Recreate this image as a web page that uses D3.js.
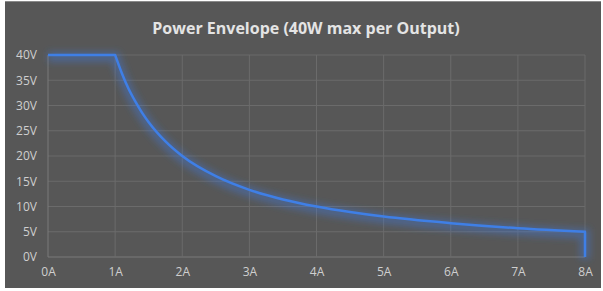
<!DOCTYPE html>
<html>
<head>
<meta charset="utf-8">
<script src="https://cdn.jsdelivr.net/npm/d3@7"></script>
<style>
    body { margin: 0; background: #ffffff; }
    text { font-family: "Open Sans", "DejaVu Sans", sans-serif; }
</style>
</head>
<body>
<svg id="chart" width="603" height="291"></svg>
<script>
// values
var ampTicks = [0, 1, 2, 3, 4, 5, 6, 7, 8];
var voltTicks = [0, 5, 10, 15, 20, 25, 30, 35, 40];
// flat part, curved part, final drop
var flatCurrent = [0, 1];
var flatVoltage = [40, 40];
var curveCurrent = [1, 1.1, 1.2, 1.3, 1.4, 1.5, 1.75, 2, 2.5, 3, 3.5, 4, 4.5, 5, 6, 7, 8];
var curveVoltage = [40, 36.4, 33.3, 30.8, 28.6, 26.7, 22.9, 20, 16, 13.3, 11.4, 10, 8.9, 8, 6.7, 5.7, 5];
var dropCurrent = [8, 8];
var dropVoltage = [5, 0];

// declare constants
const MARGIN = {top: 55, right: 18, bottom: 34, left: 48},
      WIDTH = 603 - MARGIN.left - MARGIN.right,
      HEIGHT = 291 - MARGIN.top - MARGIN.bottom;

var svg = d3.select("#chart");

// grey panel
svg.append("rect")
    .attr("x", 5).attr("y", 1)
    .attr("width", 596).attr("height", 287)
    .attr("fill", "#575757");
svg.append("rect")
    .attr("x", 5).attr("y", 1)
    .attr("width", 596).attr("height", 1)
    .attr("fill", "#8a8a8a");

// glow filter
var defs = svg.append("defs");
defs.append("filter")
    .attr("id", "glow")
    .attr("x", "-10%").attr("y", "-20%")
    .attr("width", "120%").attr("height", "140%")
    .append("feGaussianBlur")
    .attr("stdDeviation", 3.5);

// title
svg.append("text")
    .attr("x", 306)
    .attr("y", 34)
    .attr("text-anchor", "middle")
    .attr("font-size", 16)
    .attr("font-weight", "bold")
    .attr("fill", "#e4e4e4")
    .text("Power Envelope (40W max per Output)");

var g = svg.append("g")
    .attr("transform", "translate(" + MARGIN.left + "," + MARGIN.top + ")");

// scales
var xScale = d3.scaleLinear().domain([0, 8]).range([0, WIDTH]),
    yScale = d3.scaleLinear().domain([0, 40]).range([HEIGHT, 0]);

// gridlines
g.selectAll(".hgrid")
    .data(voltTicks)
    .enter().append("line")
    .attr("x1", 0).attr("x2", WIDTH)
    .attr("y1", d => yScale(d)).attr("y2", d => yScale(d))
    .attr("stroke", d => d == 0 ? "#7a7a7a" : "#6b6b6b")
    .attr("stroke-width", 1);

g.selectAll(".vgrid")
    .data(ampTicks)
    .enter().append("line")
    .attr("x1", d => xScale(d)).attr("x2", d => xScale(d))
    .attr("y1", 0).attr("y2", HEIGHT)
    .attr("stroke", d => d == 0 ? "#7a7a7a" : "#6b6b6b")
    .attr("stroke-width", 1);

// axes (labels only)
var yAxis = d3.axisLeft(yScale).tickValues(voltTicks).tickFormat(d => d + "V").tickSize(0).tickPadding(11),
    xAxis = d3.axisBottom(xScale).tickValues(ampTicks).tickFormat(d => d + "A").tickSize(0).tickPadding(10);

var ya = g.append("g").call(yAxis);
var xa = g.append("g").attr("transform", "translate(0," + HEIGHT + ")").call(xAxis);

[ya, xa].forEach(a => {
    a.select(".domain").remove();
    a.selectAll("text")
        .attr("fill", "#cfcfcf")
        .attr("font-size", 12)
        .attr("font-family", "\"Open Sans\", \"DejaVu Sans\", sans-serif");
});

// build the envelope path from its three pieces
var zip = (xs, ys) => xs.map((c, i) => [c, ys[i]]);
var straight = d3.line().x(d => xScale(d[0])).y(d => yScale(d[1]));
var smooth = d3.line().x(d => xScale(d[0])).y(d => yScale(d[1])).curve(d3.curveMonotoneX);

var pathD = straight(zip(flatCurrent, flatVoltage))
    + smooth(zip(curveCurrent, curveVoltage)).replace(/^M/, "L")
    + straight(zip(dropCurrent, dropVoltage)).replace(/^M/, "L");

g.append("path")
    .attr("d", pathD)
    .attr("fill", "none")
    .attr("stroke", "#3d7be0")
    .attr("stroke-width", 10)
    .attr("stroke-opacity", 0.4)
    .attr("transform", "translate(0,2)")
    .attr("filter", "url(#glow)");

g.append("path")
    .attr("d", pathD)
    .attr("fill", "none")
    .attr("stroke", "#3f7fe6")
    .attr("stroke-width", 2.5)
    .attr("stroke-linejoin", "round");
</script>
</body>
</html>
